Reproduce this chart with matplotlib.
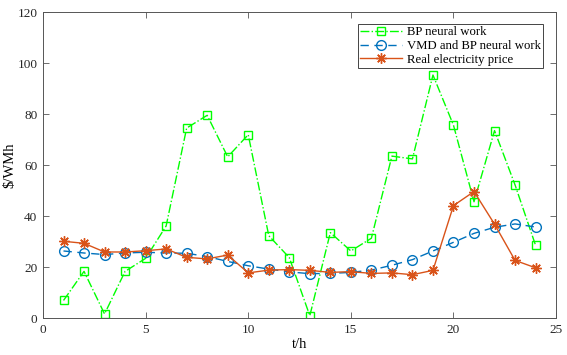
import matplotlib
matplotlib.use('Agg')
import matplotlib.pyplot as plt

# hours and the three price series ($/MWh)
hours = list(range(1, 25))
bp_nn = [7.0, 18.4, 1.7, 18.4, 23.5, 36.2, 74.6, 79.6, 63.3, 72.0, 32.4, 23.8,
         1.0, 33.6, 26.4, 31.4, 63.6, 62.5, 95.4, 75.7, 45.7, 73.6, 52.3, 28.6]
vmd_bp = [26.4, 25.6, 25.0, 25.6, 25.9, 25.6, 25.5, 24.2, 22.3, 20.6, 19.3, 18.2,
          17.5, 17.6, 18.0, 18.9, 20.8, 23.0, 26.4, 29.8, 33.3, 35.7, 37.0, 35.8]
real_price = [30.2, 29.4, 26.0, 26.0, 26.5, 27.2, 23.9, 23.3, 24.8, 17.8, 18.9, 19.1,
              18.8, 18.0, 18.3, 17.6, 17.8, 17.1, 18.8, 44.2, 49.7, 36.9, 22.7, 19.8]

plt.rcParams['font.family'] = ['Liberation Serif', 'DejaVu Serif']
plt.rcParams['font.size'] = 9.5

fig = plt.figure(figsize=(5.67, 3.55), dpi=100)
ax = fig.add_axes([0.0758, 0.1034, 0.905, 0.862])

ax.plot(hours, bp_nn, linestyle='-.', color='#00ff00', marker='s', markersize=5.5,
        markerfacecolor='none', markeredgewidth=1.0, linewidth=1.0, label='BP neural work')
ax.plot(hours, vmd_bp, linestyle=(0, (6, 4)), color='#0072BD', marker='o', markersize=7,
        markerfacecolor='none', markeredgewidth=1.0, linewidth=1.0, label='VMD and BP neural work')
ax.plot(hours, real_price, linestyle='-', color='#D95319', marker=(8, 2, 0), markersize=7.5,
        markeredgewidth=1.0, linewidth=1.0, label='Real electricity price')

ax.set_xlim(0, 25)
ax.set_ylim(0, 120)
ax.set_xticks([0, 5, 10, 15, 20, 25])
ax.set_yticks([0, 20, 40, 60, 80, 100, 120])
ax.set_xlabel('t/h', fontsize=10.5)
ax.xaxis.set_label_coords(0.5, -0.064)
ax.set_ylabel('$/WMh', fontsize=10.5)
ax.yaxis.set_label_coords(-0.052, 0.5)
ax.tick_params(direction='in', top=True, right=True, length=4, colors='#555555',
               labelcolor='#262626', width=0.6, labelsize=9.5, pad=4)
for sp in ax.spines.values():
    sp.set_color('#555555')
    sp.set_linewidth(0.7)

leg = ax.legend(loc='upper right', bbox_to_anchor=(0.975, 0.962), fancybox=False,
                edgecolor='#444444', framealpha=1, borderpad=0.2, labelspacing=0.12,
                handlelength=3.3, handletextpad=0.35, borderaxespad=0, fontsize=9.2)
leg.get_frame().set_linewidth(0.7)

fig.savefig('out.png', dpi=100)
